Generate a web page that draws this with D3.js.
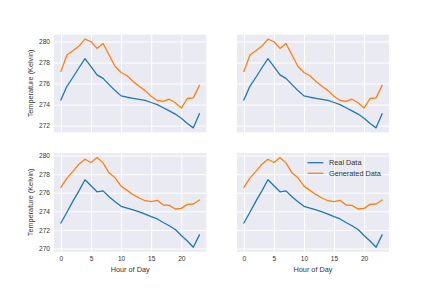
<!DOCTYPE html>
<html>
<head>
<meta charset="utf-8">
<script src="https://cdn.jsdelivr.net/npm/d3@7"></script>
<style>
  html, body { margin: 0; padding: 0; background: #fff; }
  svg { display: block; font-family: "Liberation Sans", Arial, sans-serif; }
</style>
</head>
<body>
<svg id="chart" width="432" height="288"></svg>
<script>
const hours = d3.range(0, 24);

const realTop = [274.45, 275.74, 276.6, 277.5, 278.37, 277.6, 276.83, 276.49, 275.9, 275.33, 274.83, 274.7,
                 274.6, 274.5, 274.4, 274.2, 274.0, 273.7, 273.4, 273.1, 272.7, 272.2, 271.79, 273.13];
const genTop = [277.15, 278.71, 279.12, 279.56, 280.22, 279.97, 279.34, 279.81, 278.71, 277.62, 277.05, 276.74,
                276.2, 275.74, 275.33, 274.8, 274.39, 274.3, 274.51, 274.17, 273.67, 274.58, 274.64, 275.83];

const realBottom = [272.75, 273.9, 275.1, 276.2, 277.39, 276.75, 276.1, 276.2, 275.57, 275.04, 274.54, 274.35,
                    274.15, 273.95, 273.7, 273.43, 273.18, 272.8, 272.45, 272.04, 271.4, 270.8, 270.14, 271.46];
const genBottom = [276.57, 277.57, 278.29, 279.07, 279.6, 279.25, 279.79, 279.21, 278.14, 277.6, 276.71, 276.25,
                   275.79, 275.43, 275.14, 275.04, 275.18, 274.68, 274.64, 274.25, 274.32, 274.75, 274.79, 275.21];

const xTicks = [0, 5, 10, 15, 20];
const yTicksTop = [272, 274, 276, 278, 280];
const yTicksBottom = [270, 272, 274, 276, 278, 280];
const seriesNames = ["Real Data", "Generated Data"];
const colors = ["#1f77b4", "#ff7f0e"];

const svg = d3.select("#chart");
const cols = [[54, 206.3], [237, 389]];
const rows = [[34.7, 132.3], [153, 251.7]];

function paddedDomain(arrs) {
  const all = arrs.flat();
  const lo = d3.min(all), hi = d3.max(all);
  const m = (hi - lo) * 0.05;
  return [lo - m, hi + m];
}

const rowData = [
  { real: realTop, gen: genTop, ticks: yTicksTop },
  { real: realBottom, gen: genBottom, ticks: yTicksBottom }
];

const textColor = "#333";

rowData.forEach((rd, r) => {
  const y = d3.scaleLinear().domain(paddedDomain([rd.real, rd.gen])).range([rows[r][1], rows[r][0]]);
  cols.forEach((cx, c) => {
    const x = d3.scaleLinear().domain([-1.15, 24.15]).range(cx);
    const g = svg.append("g");
    g.append("rect").attr("x", cx[0]).attr("y", rows[r][0])
      .attr("width", cx[1] - cx[0]).attr("height", rows[r][1] - rows[r][0]).attr("fill", "#EAEAF2");

    // grid
    const xAxis = d3.axisBottom(x).tickValues(xTicks).tickSize(-(rows[r][1] - rows[r][0])).tickPadding(5)
      .tickFormat(r === 1 ? d3.format("d") : () => "");
    const gx = g.append("g").attr("transform", `translate(0,${rows[r][1]})`).call(xAxis);
    const yAxis = d3.axisLeft(y).tickValues(rd.ticks).tickSize(-(cx[1] - cx[0])).tickPadding(4)
      .tickFormat(c === 0 ? d3.format("d") : () => "");
    const gy = g.append("g").attr("transform", `translate(${cx[0]},0)`).call(yAxis);
    [gx, gy].forEach(ga => {
      ga.select(".domain").remove();
      ga.selectAll(".tick line").attr("stroke", "#fff").attr("stroke-width", 1);
      ga.selectAll(".tick text").attr("fill", textColor).style("font-size", "6.6px")
        .style("font-family", "'Liberation Sans', Arial, sans-serif");
    });

    const line = d3.line().x((d, i) => x(hours[i])).y(d => y(d));
    [rd.real, rd.gen].forEach((s, k) => {
      g.append("path").datum(s).attr("d", line).attr("fill", "none")
        .attr("stroke", colors[k]).attr("stroke-width", 1.3).attr("stroke-linejoin", "round").attr("stroke-linecap", "square");
    });

    if (c === 0) {
      g.append("text").attr("transform", `translate(30,${(rows[r][0] + rows[r][1]) / 2}) rotate(-90)`)
        .attr("text-anchor", "middle").attr("dominant-baseline", "central")
        .attr("fill", textColor).style("font-size", "7.3px").text("Temperature (Kelvin)");
    }
    if (r === 1) {
      g.append("text").attr("x", (cx[0] + cx[1]) / 2).attr("y", 269.5)
        .attr("text-anchor", "middle").attr("dominant-baseline", "central")
        .attr("fill", textColor).style("font-size", "7.3px").text("Hour of Day");
    }
    if (r === 1 && c === 1) {
      const lg = g.append("g");
      seriesNames.forEach((n, k) => {
        const ly = 162.7 + k * 10.6;
        lg.append("line").attr("x1", 307.5).attr("x2", 323.3).attr("y1", ly).attr("y2", ly)
          .attr("stroke", colors[k]).attr("stroke-width", 1.3);
        lg.append("text").attr("x", 329).attr("y", ly).attr("dominant-baseline", "central")
          .attr("fill", textColor).style("font-size", "7.3px").text(n);
      });
    }
  });
});
</script>
</body>
</html>
